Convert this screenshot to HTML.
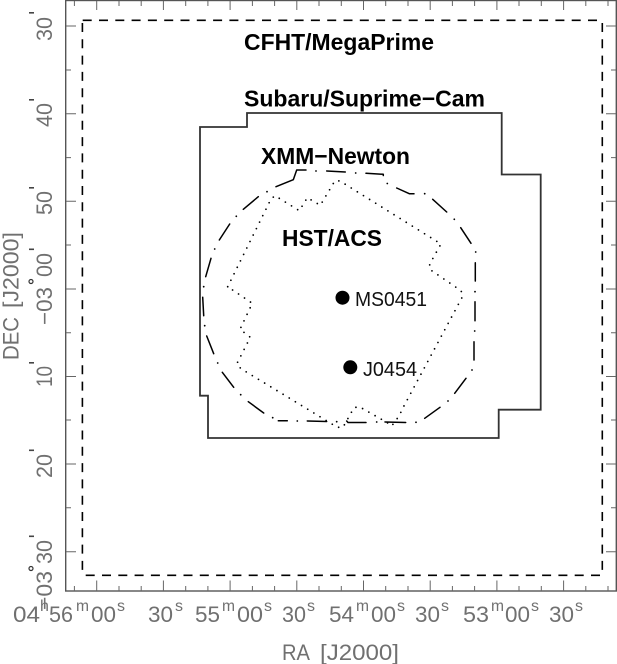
<!DOCTYPE html>
<html><head><meta charset="utf-8"><style>
html,body{margin:0;padding:0;background:#fff}
svg{display:block}
.a{font-family:"Liberation Sans",sans-serif;fill:#707070;font-size:22px}
.s{font-family:"Liberation Sans",sans-serif;fill:#707070;font-size:16px}
.b{font-family:"Liberation Sans",sans-serif;fill:#000;font-size:23px;font-weight:bold}
.n{font-family:"Liberation Sans",sans-serif;fill:#111;font-size:20px}
</style></head><body>
<svg width="617" height="664" viewBox="0 0 617 664" xmlns="http://www.w3.org/2000/svg">
<rect width="617" height="664" fill="#fff"/>
<rect x="65.7" y="0.5" width="550.6" height="590.5" fill="none" stroke="#555" stroke-width="1.4"/>
<path fill="none" stroke="#666" stroke-width="1" d="M96.7 1V10M163.4 1V10M230.1 1V10M296.8 1V10M363.5 1V10M430.2 1V10M496.9 1V10M563.6 1V10
M74.4 1V6M119 1V6M141.2 1V6M185.7 1V6M207.9 1V6M252.4 1V6M274.6 1V6M319 1V6M341.3 1V6M385.7 1V6M408 1V6M452.4 1V6M474.6 1V6M519 1V6M541.3 1V6M585.8 1V6M608 1V6
M96.7 591V580.5M163.4 591V580.5M230.1 591V580.5M296.8 591V580.5M363.5 591V580.5M430.2 591V580.5M496.9 591V580.5M563.6 591V580.5
M74.4 591V586M119 591V586M141.2 591V586M185.7 591V586M207.9 591V586M252.4 591V586M274.6 591V586M319 591V586M341.3 591V586M385.7 591V586M408 591V586M452.4 591V586M474.6 591V586M519 591V586M541.3 591V586M585.8 591V586M608 591V586
M66 26H76M66 113.7H76M66 201.3H76M66 289H76M66 376.5H76M66 464H76M66 551.7H76
M66 70H71M66 157.6H71M66 245H71M66 332.8H71M66 420H71M66 507.8H71
M616 26H606M616 113.7H606M616 201.3H606M616 289H606M616 376.5H606M616 464H606M616 551.7H606
M616 70H611M616 157.6H611M616 245H611M616 332.8H611M616 420H611M616 507.8H611"/>
<g fill="none" stroke="#000" stroke-width="1.6" stroke-dasharray="9 7.3">
<path d="M82.7 20.3H602"/>
<path d="M82.4 23V572"/>
<path d="M85.7 575.3H601"/>
<path d="M602.3 23V572"/>
</g>
<path fill="none" stroke="#333" stroke-width="1.8" d="M200 127H247V113H501.7V174.5H540.7V409.7H498.7V438H208V395.7H200Z"/>
<g fill="none" stroke="#000" stroke-width="1.5" stroke-linecap="round" stroke-linejoin="round">
<path d="M276 186.7L293.3 179.7L296.7 170H306M326.7 171L345.3 172M366 173.3L383.3 174.3V175.5M396.7 188L409.3 193.7H414M432.7 199.3L446.7 212M460.7 227.7L471 243.3M475.3 262.7V281M475 301.7V320.7M474 341.7V360M466 378.3L454.7 393.3M440 407.3L424.7 418.3M405.7 422.5L385 422M366 422.5L348 422.5L346.7 421M326.7 421.5L307.3 421M287.3 420.7H278.3M263.7 413L248.3 401.7M233.7 387.3L222.3 372.3M213.7 353.7L206.7 336M203.7 315.7L202.7 297.3M205.7 276.7L211 258.3M219.3 240L229.7 224M243.3 209.3L258.3 196.7"/>
</g>
<g fill="#000">
<circle cx="316" cy="171" r=".9"/><circle cx="355.7" cy="173" r=".9"/><circle cx="387.3" cy="183.5" r=".9"/><circle cx="424.7" cy="193.7" r=".9"/><circle cx="454.3" cy="219.3" r=".9"/><circle cx="475.7" cy="252" r=".9"/><circle cx="475" cy="291.7" r=".9"/><circle cx="474.7" cy="331" r=".9"/><circle cx="472" cy="370" r=".9"/><circle cx="448" cy="401" r=".9"/><circle cx="416" cy="422.3" r=".9"/><circle cx="376.7" cy="422" r=".9"/><circle cx="336.7" cy="421.7" r=".9"/><circle cx="297.3" cy="421" r=".9"/><circle cx="272.7" cy="417.7" r=".9"/><circle cx="240.7" cy="394.7" r=".9"/><circle cx="217.7" cy="363" r=".9"/><circle cx="204.7" cy="325.7" r=".9"/><circle cx="203.7" cy="286.7" r=".9"/><circle cx="214.7" cy="249" r=".9"/><circle cx="236.3" cy="216.3" r=".9"/><circle cx="267" cy="191.7" r=".9"/>
</g>
<path fill="none" stroke="#000" stroke-width="1.8" stroke-linecap="round" stroke-dasharray="0 7.2" d="M227.7 286.7L271 199L275 195.7L299.3 210.7L307.3 197.7L320.3 205.3L335 180.7L340 181L441 244L429.7 264V269.3L461 290.7L463 295.7L402.7 408.3L399.3 415.7L391.7 426L386.7 422.3L359.3 406.7L354 407.7L343 427.3H337.3L241 368.7L236.7 364L250.3 337.3L240 329.3L252.3 303.3L227.7 286.7Z"/>
<circle cx="342.5" cy="297.7" r="7" fill="#000"/>
<circle cx="350.3" cy="367.3" r="7" fill="#000"/>
<text class="b" x="244" y="50" textLength="190" lengthAdjust="spacingAndGlyphs">CFHT/MegaPrime</text>
<text class="b" x="244" y="106.3" textLength="241" lengthAdjust="spacingAndGlyphs">Subaru/Suprime−Cam</text>
<text class="b" x="261" y="164" textLength="149" lengthAdjust="spacingAndGlyphs">XMM−Newton</text>
<text class="b" x="282" y="246" textLength="100" lengthAdjust="spacingAndGlyphs">HST/ACS</text>
<text class="n" x="355" y="306" textLength="72" lengthAdjust="spacingAndGlyphs">MS0451</text>
<text class="n" x="363" y="376" textLength="54" lengthAdjust="spacingAndGlyphs">J0454</text>
<text class="a" x="13" y="622" textLength="27" lengthAdjust="spacingAndGlyphs">04</text>
<text class="s" x="40" y="611">h</text>
<text class="a" x="49" y="622" textLength="24" lengthAdjust="spacingAndGlyphs">56</text>
<text class="s" x="76" y="611" textLength="13" lengthAdjust="spacingAndGlyphs">m</text>
<text class="a" x="91" y="622" textLength="25" lengthAdjust="spacingAndGlyphs">00</text>
<text class="s" x="117" y="611">s</text>
<text class="a" x="148" y="622" textLength="25" lengthAdjust="spacingAndGlyphs">30</text>
<text class="s" x="175" y="611">s</text>
<text class="a" x="195" y="622" textLength="25" lengthAdjust="spacingAndGlyphs">55</text>
<text class="s" x="222" y="611" textLength="13" lengthAdjust="spacingAndGlyphs">m</text>
<text class="a" x="237" y="622" textLength="26" lengthAdjust="spacingAndGlyphs">00</text>
<text class="s" x="264" y="611">s</text>
<text class="a" x="282" y="622" textLength="24" lengthAdjust="spacingAndGlyphs">30</text>
<text class="s" x="307" y="611">s</text>
<text class="a" x="329" y="622" textLength="25" lengthAdjust="spacingAndGlyphs">54</text>
<text class="s" x="356" y="611" textLength="13" lengthAdjust="spacingAndGlyphs">m</text>
<text class="a" x="371" y="622" textLength="25" lengthAdjust="spacingAndGlyphs">00</text>
<text class="s" x="397" y="611">s</text>
<text class="a" x="415" y="622" textLength="25" lengthAdjust="spacingAndGlyphs">30</text>
<text class="s" x="441" y="611">s</text>
<text class="a" x="463" y="622" textLength="26" lengthAdjust="spacingAndGlyphs">53</text>
<text class="s" x="491" y="611" textLength="13" lengthAdjust="spacingAndGlyphs">m</text>
<text class="a" x="505" y="622" textLength="25" lengthAdjust="spacingAndGlyphs">00</text>
<text class="s" x="531" y="611">s</text>
<text class="a" x="549" y="622" textLength="25" lengthAdjust="spacingAndGlyphs">30</text>
<text class="s" x="575" y="611">s</text>
<text class="a" x="282" y="660" textLength="28" lengthAdjust="spacingAndGlyphs">RA</text>
<text class="a" x="320" y="660" textLength="79" lengthAdjust="spacingAndGlyphs">[J2000]</text>
<text class="a" transform="translate(52,41) rotate(-90)" textLength="24" lengthAdjust="spacingAndGlyphs">30</text>
<text class="a" transform="translate(52,127) rotate(-90)" textLength="24" lengthAdjust="spacingAndGlyphs">40</text>
<text class="a" transform="translate(52,215) rotate(-90)" textLength="24" lengthAdjust="spacingAndGlyphs">50</text>
<text class="a" transform="translate(52,277) rotate(-90)" textLength="24" lengthAdjust="spacingAndGlyphs">00</text>
<text class="a" transform="translate(52,325) rotate(-90)" textLength="38" lengthAdjust="spacingAndGlyphs">−03</text>
<text class="a" transform="translate(52,387) rotate(-90)" textLength="21" lengthAdjust="spacingAndGlyphs">10</text>
<text class="a" transform="translate(52,478) rotate(-90)" textLength="24" lengthAdjust="spacingAndGlyphs">20</text>
<text class="a" transform="translate(52,564) rotate(-90)" textLength="24" lengthAdjust="spacingAndGlyphs">30</text>
<text class="a" transform="translate(52,610) rotate(-90)" textLength="39" lengthAdjust="spacingAndGlyphs">−03</text>
<text class="a" transform="translate(18.5,360) rotate(-90)" textLength="43" lengthAdjust="spacingAndGlyphs">DEC</text>
<text class="a" transform="translate(18.5,308) rotate(-90)" textLength="76" lengthAdjust="spacingAndGlyphs">[J2000]</text>
<g fill="#444">
<rect x="29" y="12" width="5" height="1.6"/><rect x="29" y="99" width="5" height="1.6"/><rect x="29" y="187" width="5" height="1.6"/><rect x="29" y="248.5" width="5" height="1.6"/><rect x="29" y="362" width="5" height="1.6"/><rect x="29" y="449.5" width="5" height="1.6"/><rect x="29" y="535.5" width="5" height="1.6"/>
</g>
<g fill="none" stroke="#333" stroke-width="1.2">
<circle cx="31" cy="281.5" r="2"/><circle cx="31" cy="568.5" r="2"/>
</g>
</svg>
</body></html>
